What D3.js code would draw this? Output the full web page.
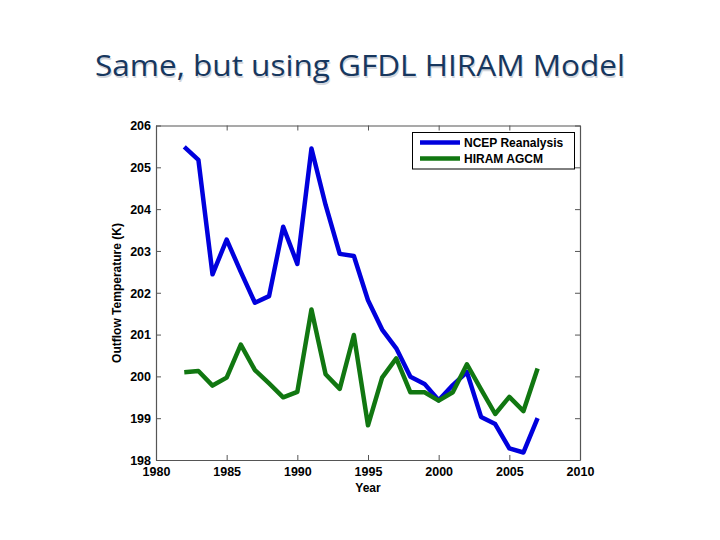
<!DOCTYPE html>
<html><head><meta charset="utf-8">
<script src="https://cdn.jsdelivr.net/npm/d3@7"></script>
<style>body{margin:0;background:#fff}svg{display:block}</style>
</head><body>
<svg id="c" width="720" height="540"></svg>
<script>
const years = [1982,1983,1984,1985,1986,1987,1988,1989,1990,1991,1992,1993,1994,1995,1996,1997,1998,1999,2000,2001,2002,2003,2004,2005,2006,2007];
const ncep = [205.49,205.18,202.44,203.27,202.5,201.76,201.92,203.58,202.69,205.45,204.1,202.93,202.88,201.82,201.12,200.67,199.99,199.82,199.43,199.79,200.1,199.03,198.86,198.28,198.18,199.0];
const hiram = [200.1,200.13,199.78,199.97,200.76,200.15,199.83,199.5,199.63,201.6,200.05,199.7,200.99,198.83,199.97,200.43,199.62,199.62,199.42,199.62,200.29,199.69,199.1,199.51,199.17,200.19];
const xTicks = [1980,1985,1990,1995,2000,2005,2010];
const yTicks = [198,199,200,201,202,203,204,205,206];
const seriesNames = ["NCEP Reanalysis","HIRAM AGCM"];
const seriesColors = ["#0000dd","#117711"];

const svg = d3.select("#c");
const L=156, R=580, T=125.5, B=460;
const x = d3.scaleLinear().domain([1980,2010]).range([L,R]);
const y = d3.scaleLinear().domain([198,206]).range([B,T]);

// title
svg.append("text").attr("x",96).attr("y",77.5)
  .attr("textLength",530).attr("lengthAdjust","spacingAndGlyphs")
  .attr("font-family","'Open Sans', 'Noto Sans', sans-serif").attr("font-size",30)
  .attr("fill","#d3d6dc").text("Same, but using GFDL HIRAM Model");
svg.append("text").attr("x",95).attr("y",76)
  .attr("textLength",530).attr("lengthAdjust","spacingAndGlyphs")
  .attr("font-family","'Open Sans', 'Noto Sans', sans-serif").attr("font-size",30)
  .attr("fill","#17375e").text("Same, but using GFDL HIRAM Model");

const axCol = "#555";
// axes
const gx = svg.append("g").attr("transform",`translate(0,${B})`)
  .call(d3.axisBottom(x).tickValues(xTicks).tickFormat(d3.format("d")).tickSizeInner(-5).tickSizeOuter(0).tickPadding(6));
const gxt = svg.append("g").attr("transform",`translate(0,${T})`)
  .call(d3.axisTop(x).tickValues(xTicks).tickFormat("").tickSizeInner(-5).tickSizeOuter(0));
const gy = svg.append("g").attr("transform",`translate(${L},0)`)
  .call(d3.axisLeft(y).tickValues(yTicks).tickFormat(d3.format("d")).tickSizeInner(-5).tickSizeOuter(0).tickPadding(5));
const gyr = svg.append("g").attr("transform",`translate(${R},0)`)
  .call(d3.axisRight(y).tickValues(yTicks).tickFormat("").tickSizeInner(-5).tickSizeOuter(0));
[gx,gxt,gy,gyr].forEach(g=>{
  g.selectAll("path.domain").attr("stroke",axCol).attr("stroke-width",1.2);
  g.selectAll(".tick line").attr("stroke",axCol);
  g.selectAll("text").attr("font-family","'Liberation Sans', Arial, sans-serif")
    .attr("font-size",12.5).attr("font-weight","bold").attr("fill","#000");
});
gx.selectAll("text").attr("dy","0.78em");
gy.selectAll("text").attr("dy","0.35em");

// axis labels
svg.append("text").attr("x",368).attr("y",492).attr("text-anchor","middle")
  .attr("font-family","'Liberation Sans', Arial, sans-serif").attr("font-size",12).attr("font-weight","bold").text("Year");
svg.append("text").attr("transform","translate(121,293) rotate(-90)").attr("text-anchor","middle")
  .attr("font-family","'Liberation Sans', Arial, sans-serif").attr("font-size",12).attr("font-weight","bold").text("Outflow Temperature (K)");

// lines
const line = d3.line().x((d,i)=>x(years[i])).y(d=>y(d));
[ncep,hiram].forEach((s,k)=>{
  svg.append("path").datum(s).attr("d",line).attr("fill","none")
    .attr("stroke",seriesColors[k]).attr("stroke-width",4.5).attr("stroke-linejoin","round");
});

// legend
const lg = svg.append("g");
lg.append("rect").attr("x",412.5).attr("y",132.5).attr("width",162).attr("height",36.5)
  .attr("fill","#fff").attr("stroke","#000").attr("stroke-width",1);
seriesNames.forEach((n,k)=>{
  const yy = 142.5 + k*16;
  lg.append("line").attr("x1",420).attr("x2",460).attr("y1",yy).attr("y2",yy)
    .attr("stroke",seriesColors[k]).attr("stroke-width",4.5);
  lg.append("text").attr("x",464).attr("y",yy).attr("dy","0.35em")
    .attr("font-family","'Liberation Sans', Arial, sans-serif").attr("font-size",12).attr("font-weight","bold").text(n);
});
</script>
</body></html>
